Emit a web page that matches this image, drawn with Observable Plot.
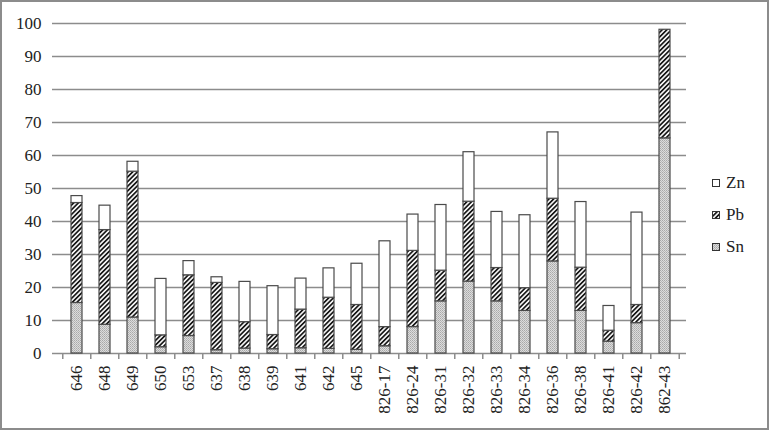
<!DOCTYPE html>
<html>
<head>
<meta charset="utf-8">
<script src="https://cdn.jsdelivr.net/npm/d3@7"></script>
<script src="https://cdn.jsdelivr.net/npm/@observablehq/plot@0.6"></script>
<style>
  html, body { margin: 0; padding: 0; background: #fff; }
  #wrap { position: relative; width: 769px; height: 430px; overflow: hidden; font-family: "Liberation Serif", "Times New Roman", serif; }
  #wrap svg.plot { position: absolute; left: 0; top: 0; }
  #frame { position: absolute; left: 0; top: 0; right: 0; bottom: 0; border: 2px solid #8c8c8c; pointer-events: none; }
  #legend { position: absolute; left: 712px; top: 167px; font-size: 17px; color: #222; }
  #legend .item { display: flex; align-items: center; height: 32px; }
  #legend svg { margin-right: 5px; }
</style>
</head>
<body>
<div id="wrap"><div id="legend"></div><div id="frame"></div></div>
<script>
const categories = ["646","648","649","650","653","637","638","639","641","642","645","826-17","826-24","826-31","826-32","826-33","826-34","826-36","826-38","826-41","826-42","862-43"];
const series = ["Sn","Pb","Zn"];
const sn = [15.3, 8.7, 10.9, 1.9, 5.3, 1.0, 1.5, 1.3, 1.6, 1.4, 1.1, 2.2, 8.0, 15.8, 21.8, 15.8, 12.9, 27.9, 12.9, 3.6, 9.2, 65.2];
const pb = [30.3, 28.7, 44.2, 3.6, 18.4, 20.4, 8.0, 4.3, 11.7, 15.5, 13.6, 5.8, 23.1, 9.3, 24.2, 10.1, 6.9, 19.0, 13.1, 3.3, 5.5, 32.9];
const zn = [2.1, 7.4, 3.0, 17.1, 4.3, 1.7, 12.2, 14.8, 9.4, 8.9, 12.5, 26.0, 11.0, 19.9, 15.0, 17.0, 22.1, 20.1, 19.9, 7.5, 28.0, 0.0];
const yTicks = [0, 10, 20, 30, 40, 50, 60, 70, 80, 90, 100];

const valuesBySeries = {Sn: sn, Pb: pb, Zn: zn};
const rows = [];
categories.forEach((c, i) => series.forEach(s => rows.push({cat: c, metal: s, value: valuesBySeries[s][i]})));

const fills = ["url(#pat-sn)", "url(#pat-pb)", "url(#pat-zn)"];

const defsMarkup = `
  <pattern id="pat-sn" patternUnits="userSpaceOnUse" width="2" height="2">
    <rect width="2" height="2" fill="#dcdcdc"/>
    <rect x="0" y="0" width="1" height="1" fill="#a9a9a9"/>
    <rect x="1" y="1" width="1" height="1" fill="#b8b8b8"/>
  </pattern>
  <pattern id="pat-pb" patternUnits="userSpaceOnUse" width="3.3" height="3.3" patternTransform="rotate(45)">
    <rect width="3.3" height="3.3" fill="#fff"/>
    <line x1="0.9" y1="0" x2="0.9" y2="3.3" stroke="#111" stroke-width="1.7"/>
  </pattern>
  <pattern id="pat-zn" patternUnits="userSpaceOnUse" width="4" height="4">
    <rect width="4" height="4" fill="#fff"/>
  </pattern>`;

const plot = Plot.plot({
  width: 769,
  height: 430,
  marginLeft: 57,
  marginRight: 85,
  marginTop: 23,
  marginBottom: 77,
  style: {fontFamily: "'Liberation Serif', 'Times New Roman', serif", fontSize: "17px", color: "#222", background: "transparent"},
  x: {domain: categories, paddingInner: 0.59, paddingOuter: 0.295, label: null},
  y: {domain: [0, 100], label: null},
  color: {domain: series, range: fills},
  marks: [
    Plot.ruleY(yTicks, {stroke: "#8c8c8c", strokeWidth: 1.5, insetRight: -2}),
    Plot.ruleX([0], {frameAnchor: "left", stroke: "#b5b5b5", strokeWidth: 1}),
    Plot.ruleX([0], {frameAnchor: "right", stroke: "#c8c8c8", strokeWidth: 1}),
    Plot.axisY(yTicks, {tickSize: 5, tickPadding: 11, stroke: "#8c8c8c", strokeWidth: 1.5, label: null, fill: "#222"}),
    Plot.axisX({tickSize: 0, tickPadding: 12, tickRotate: -90, label: null, fill: "#222"}),
    Plot.ruleX(categories, {x: d => d, y1: 0, y2: 0, insetBottom: -6, dx: -14.23, stroke: "#8c8c8c", strokeWidth: 1.5}),
    Plot.ruleX(categories.slice(-1), {x: d => d, y1: 0, y2: 0, insetBottom: -6, dx: 14.23, stroke: "#8c8c8c", strokeWidth: 1.5}),
    Plot.barY(rows, Plot.stackY({x: "cat", y: "value", fill: "metal", stroke: "#4a4a4a", strokeWidth: 1.2, order: series}))
  ]
});

const defs = document.createElementNS("http://www.w3.org/2000/svg", "defs");
defs.innerHTML = defsMarkup;
plot.insertBefore(defs, plot.firstChild);
plot.classList.add("plot");
const wrap = document.getElementById("wrap");
wrap.insertBefore(plot, wrap.firstChild);

// legend (top to bottom: Zn, Pb, Sn)
const legend = document.getElementById("legend");
const legendOrder = series.slice().reverse();
legendOrder.forEach(s => {
  const item = document.createElement("div");
  item.className = "item";
  const f = fills[series.indexOf(s)];
  item.innerHTML = `<svg width="9" height="9"><rect x="0.5" y="0.5" width="7" height="7" fill="${f}" stroke="#333" stroke-width="1"/></svg><span>${s}</span>`;
  legend.appendChild(item);
});
</script>
</body>
</html>
